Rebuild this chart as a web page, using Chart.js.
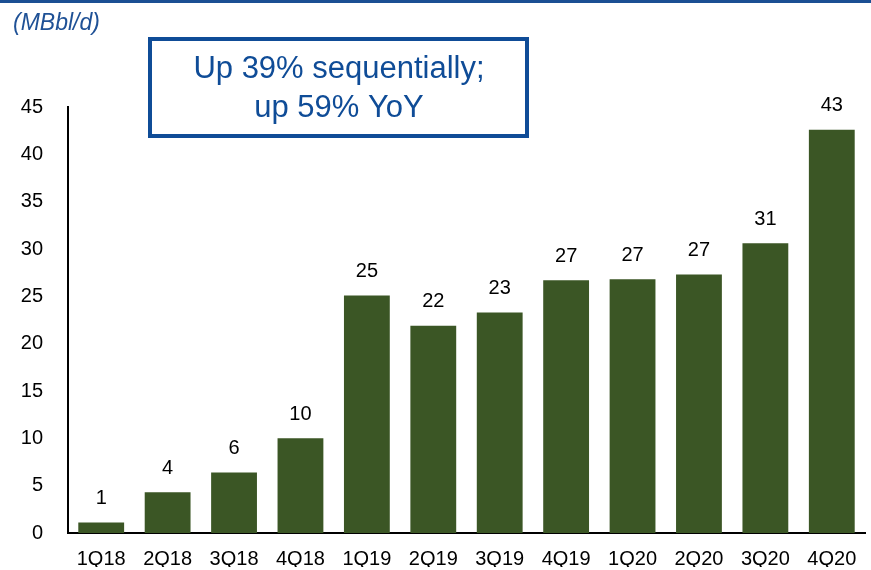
<!DOCTYPE html>
<html>
<head>
<meta charset="utf-8">
<script src="https://cdn.jsdelivr.net/npm/chart.js@4.4.1/dist/chart.umd.min.js"></script>
<style>
  html, body { margin:0; padding:0; background:#fff; overflow:hidden; }
  #wrap { width:871px; height:570px; position:relative; }
  canvas { display:block; }
</style>
</head>
<body>
<div id="wrap"><canvas id="grafico" width="871" height="570"></canvas></div>
<script>
// Datos
const trimestres = ["1Q18","2Q18","3Q18","4Q18","1Q19","2Q19","3Q19","4Q19","1Q20","2Q20","3Q20","4Q20"];
const volumen = [1.1, 4.3, 6.4, 10.0, 25.1, 21.9, 23.3, 26.7, 26.8, 27.3, 30.6, 42.6];
const etiquetas = ["1","4","6","10","25","22","23","27","27","27","31","43"];
const unidad = "(MBbl/d)";
const notaLineas = ["Up 39% sequentially;", "up 59% YoY"];

const azul = "#0f4c97";
const verde = "#3b5625";
const fuente = "'Liberation Sans', Arial, sans-serif";

// Plugin: linea superior, unidad, cuadro de texto y etiquetas de valor
const decoracion = {
    id: "decoracion",
    afterDraw(chart){
        const ctx = chart.ctx;
        ctx.save();
        // linea azul superior
        ctx.fillStyle = "#1b4f93";
        ctx.fillRect(0, 0, 871, 3);
        // unidad
        ctx.font = "italic 23px " + fuente;
        ctx.fillStyle = "#1f5196";
        ctx.textAlign = "left";
        ctx.textBaseline = "middle";
        ctx.fillText(unidad, 13, 24);
        // cuadro
        ctx.strokeStyle = azul;
        ctx.lineWidth = 4;
        ctx.fillStyle = "#fff";
        ctx.fillRect(150, 39, 377, 97);
        ctx.strokeRect(150, 39, 377, 97);
        ctx.fillStyle = azul;
        ctx.font = "31px " + fuente;
        ctx.textAlign = "center";
        ctx.fillText(notaLineas[0], 339, 69);
        ctx.fillText(notaLineas[1], 339, 108);
        // etiquetas de valor
        const meta = chart.getDatasetMeta(0);
        ctx.fillStyle = "#000";
        ctx.font = "20px " + fuente;
        meta.data.forEach((bar, i)=>{
            ctx.fillText(etiquetas[i], bar.x, bar.y - 24);
        });
        ctx.restore();
    }
};

new Chart(document.getElementById("grafico").getContext("2d"), {
    type: "bar",
    data: {
        labels: trimestres,
        datasets: [{ data: volumen, backgroundColor: verde, barPercentage: 0.69, categoryPercentage: 1.0 }]
    },
    options: {
        responsive: false,
        animation: false,
        layout: { padding: { top: 107, right: 6, left: 0, bottom: 0 } },
        plugins: { legend: { display: false }, tooltip: { enabled: false } },
        scales: {
            x: {
                grid: { display: false, drawTicks: false },
                border: { color: "#000", width: 2 },
                ticks: { color: "#000", font: { family: fuente, size: 20 }, padding: 14, maxRotation: 0, autoSkip: false },
                afterFit(s){ s.height = 34; }
            },
            y: {
                min: 0, max: 45,
                grid: { display: false, drawTicks: false },
                border: { color: "#000", width: 2 },
                ticks: { stepSize: 5, color: "#000", font: { family: fuente, size: 20 }, padding: 25 },
                afterFit(s){ s.width = 68; }
            }
        }
    },
    plugins: [decoracion]
});
</script>
</body>
</html>
